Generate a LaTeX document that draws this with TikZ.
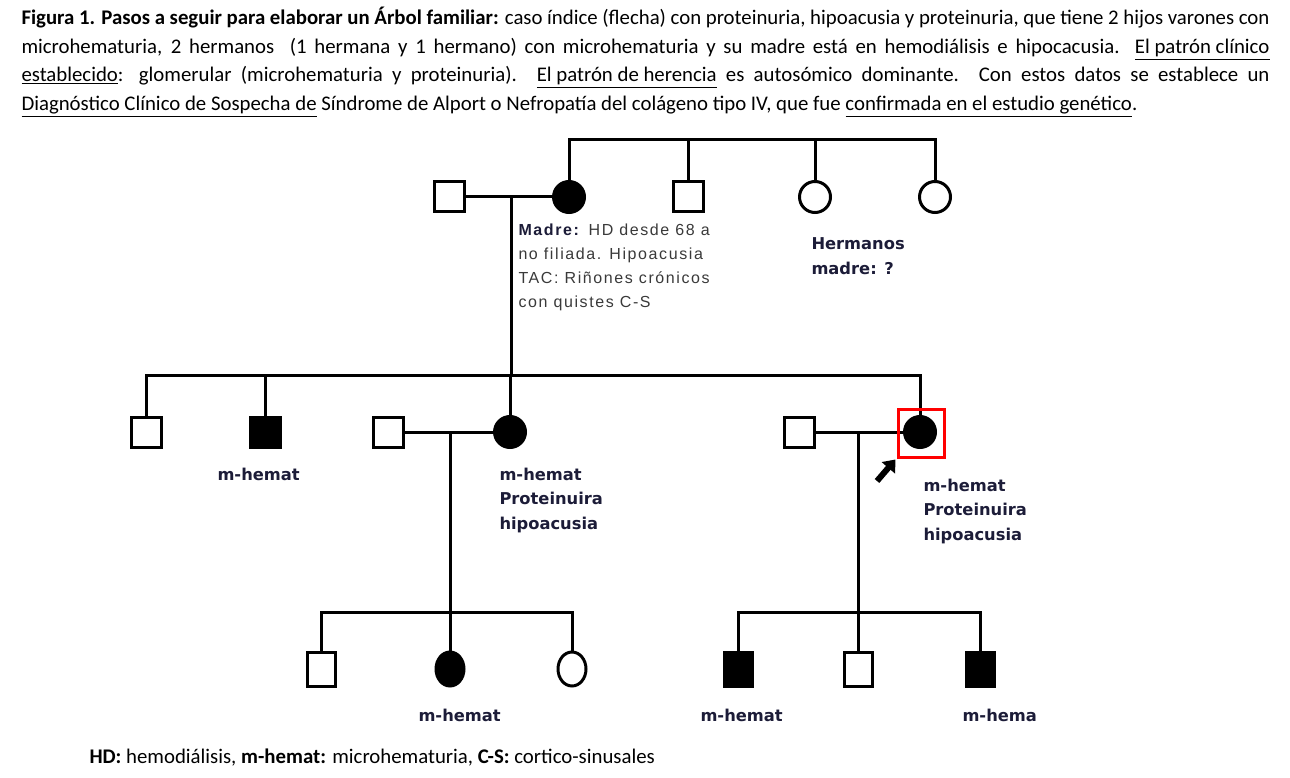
\documentclass[tikz,border=0pt]{standalone}
\usepackage{fontspec}
\setmainfont{Carlito}
\newfontfamily\labfont{DejaVu Sans}
\newfontfamily\notefont{Liberation Sans}[LetterSpace=10]
\usepackage{tikz}
\usetikzlibrary{shapes.geometric, arrows.meta, calc}
\definecolor{labink}{HTML}{1C1C38}
\definecolor{noteink}{HTML}{3A3A3A}

\begin{document}
\begin{tikzpicture}[
  x=1pt, y=-1pt,
  line width=3pt,
  male/.style={rectangle, draw, line width=3pt, fill=white, minimum size=30pt, inner sep=0pt},
  female/.style={circle, draw, line width=3pt, fill=white, minimum size=31pt, inner sep=0pt},
  kidm/.style={male, minimum width=28pt, minimum height=34pt},
  kidf/.style={ellipse, draw, line width=3pt, fill=white, minimum width=28pt, minimum height=34pt, inner sep=0pt},
  affected/.style={fill=black},
  capline/.style={anchor=base west, inner sep=0pt, font=\fontsize{20.8}{24}\selectfont},
  lab/.style={anchor=base west, inner sep=0pt, align=left, text=labink, font=\labfont\bfseries\fontsize{16.3}{24.5}\selectfont},
  note/.style={anchor=base west, inner sep=0pt, align=left, text=noteink, font=\notefont\fontsize{16}{23.7}\selectfont},
  proband/.style={-{Triangle[length=11pt, width=17pt]}, line width=6pt}
]
  \fill[white] (0,0) rectangle (1290,778);
  \useasboundingbox (0,0) rectangle (1290,778);

  % caption
  \node[capline] (cap1) at (20,25) {\makebox[1248pt][s]{\textbf{Figura 1. Pasos a seguir para elaborar un Árbol familiar:} caso índice (flecha) con proteinuria, hipoacusia y proteinuria, que tiene 2 hijos varones con}};
  \node[capline] (cap2) at (20,54) {\makebox[1248pt][s]{microhematuria, 2 hermanos \ (1 hermana y 1 hermano) con microhematuria y su madre está en hemodiálisis e hipocacusia. \underline{El patrón clínico}}};
  \node[capline] (cap3) at (20,82) {\makebox[1248pt][s]{\underline{establecido}: glomerular (microhematuria y proteinuria). \underline{El patrón de herencia} es autosómico dominante. Con estos datos se establece un}};
  \node[capline] (cap4) at (20,111) {\underline{Diagnóstico Clínico de Sospecha de} Síndrome de Alport o Nefropatía del colágeno tipo IV, que fue \underline{confirmada en el estudio genético}.};

  % generation I
  \coordinate (top) at (0,140);
  \coordinate (d1) at (511,197);
  \coordinate (sib2) at (0,375);
  \draw (d1) -- (d1 |- sib2);
  \node[male] (gf) at (449,197) {};
  \node[female, affected] (mo) at (569,197) {};
  \node[male] (u1) at (688,197) {};
  \node[female] (a1) at (815,197) {};
  \node[female] (a2) at (935,197) {};
  \draw (gf) -- (mo);
  \draw (mo.north) -- (mo.north |- top) -- (a2.north |- top) -- (a2.north);
  \draw (u1.north) -- (u1.north |- top);
  \draw (a1.north) -- (a1.north |- top);
  \node[note] (monote) at (517,307) {\textcolor{labink}{\textbf{Madre:}} HD desde 68 a\\no filiada. Hipoacusia\\TAC: Riñones crónicos\\con quistes C-S};
  \node[lab] (hnote) at (810,274) {Hermanos\\madre: ?};

  % generation II
  \coordinate (d2) at (450,432);
  \coordinate (d3) at (858,432);
  \coordinate (sib3) at (0,612);
  \draw (d2) -- (d2 |- sib3);
  \draw (d3) -- (d3 |- sib3);
  \node[male] (b1) at (146,432) {};
  \node[male, affected] (b2) at (265,432) {};
  \node[male] (h1) at (388,432) {};
  \node[female, affected] (s1) at (510,432) {};
  \node[male] (h2) at (799,432) {};
  \node[female, affected] (ix) at (920,432) {};
  \draw (b1.north) -- (b1.north |- sib2) -- (ix.north |- sib2) -- (ix.north);
  \draw (b2.north) -- (b2.north |- sib2);
  \draw (s1.north) -- (s1.north |- sib2);
  \draw (h1) -- (s1);
  \draw (h2) -- (ix);
  \node[draw=red, line width=3pt, minimum width=46pt, minimum height=48pt] (box) at (921,433) {};
  \coordinate (arr) at (877,481);
  \draw[proband] (arr) -- ($(box.south west)+(-1,1)$);
  \node[lab] (l2) at (216,480) {m-hemat};
  \node[lab] (l3) at (498,529) {m-hemat\\Proteinuira\\hipoacusia};
  \node[lab] (l4) at (922,540) {m-hemat\\Proteinuira\\hipoacusia};

  % generation III
  \node[kidm] (k1) at (321,669) {};
  \node[kidf, affected] (k2) at (450,669) {};
  \node[kidf] (k3) at (572,669) {};
  \node[kidm, affected] (k4) at (738,669) {};
  \node[kidm] (k5) at (858,669) {};
  \node[kidm, affected] (k6) at (980,669) {};
  \draw (k1.north) -- (k1.north |- sib3) -- (k3.north |- sib3) -- (k3.north);
  \draw (k2.north) -- (k2.north |- sib3);
  \draw (k4.north) -- (k4.north |- sib3) -- (k6.north |- sib3) -- (k6.north);
  \draw (k5.north) -- (k5.north |- sib3);
  \node[lab] (l5) at (417,721) {m-hemat};
  \node[lab] (l6) at (699,721) {m-hemat};
  \node[lab] (l7) at (961,721) {m-hema};

  % legend
  \node[capline] (legend) at (88,763) {\textbf{HD:} hemodiálisis, \textbf{m-hemat:} microhematuria, \textbf{C-S:} cortico-sinusales};
\end{tikzpicture}
\end{document}
